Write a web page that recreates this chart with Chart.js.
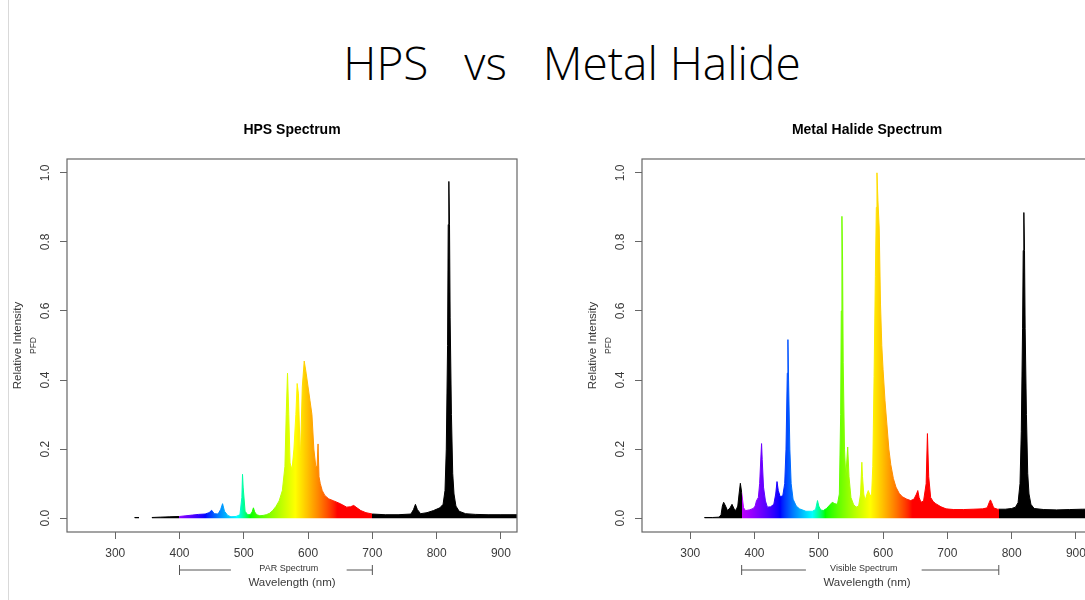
<!DOCTYPE html>
<html>
<head>
<meta charset="utf-8">
<script src="https://cdn.jsdelivr.net/npm/chart.js@4.4.0/dist/chart.umd.min.js"></script>
<style>
  html, body { margin: 0; padding: 0; background: #fff; }
  body { width: 1085px; height: 600px; overflow: hidden; position: relative; }
  #edge { position: absolute; left: 8px; top: 0; width: 1px; height: 600px; background: #d9d9d9; }
  #title { position: absolute; left: 0; top: 39px; width: 1144px; text-align: center; white-space: pre;
    font-family: "Open Sans", sans-serif; font-weight: 350; font-size: 46px; line-height: 46px; color: #000; }
  canvas { position: absolute; top: 110px; }
</style>
</head>
<body>
<div id="edge"></div>
<div id="title">HPS   vs   Metal Halide</div>
<canvas id="hps" width="545" height="490" style="left:0px"></canvas>
<canvas id="mh" width="545" height="490" style="left:575px"></canvas>
<script>
// tick labels
const xTickLabels = [300, 400, 500, 600, 700, 800, 900];
const yTickLabels = [0.0, 0.2, 0.4, 0.6, 0.8, 1.0];

// HPS spectrum (wavelength nm, relative intensity)
const hpsWl = [330, 337, 345, 357, 370, 385, 400, 410, 420, 430, 440, 446, 450, 454, 460, 464, 467, 470, 475, 480,
  488, 494, 497, 498, 499, 502, 506, 510, 513, 515, 517, 520, 525, 530, 535, 540, 545, 550, 555, 560,
  564, 566, 568, 570, 572, 575, 578, 581, 583, 585, 588, 591, 594, 597, 600, 603, 606, 609, 612, 614,
  615.5, 617, 619, 622, 626, 632, 640, 650, 660, 666, 671, 676, 682, 690, 700, 720, 740, 760, 764, 767,
  770, 775, 785, 795, 805, 810, 813, 815, 817, 818, 819, 820, 821, 823, 825, 827, 830, 835, 845, 860,
  880, 900, 925];
const hpsVal = [0.002, 0.002, null, 0.002, 0.003, 0.004, 0.005, 0.007, 0.009, 0.011, 0.012, 0.016, 0.023, 0.013, 0.012, 0.025, 0.042, 0.02, 0.008, 0.004,
  0.005, 0.01, 0.06, 0.127, 0.09, 0.02, 0.01, 0.01, 0.018, 0.03, 0.018, 0.01, 0.007, 0.008, 0.01, 0.014, 0.022, 0.034, 0.05, 0.08,
  0.15, 0.3, 0.42, 0.3, 0.16, 0.14, 0.2, 0.3, 0.39, 0.36, 0.17, 0.38, 0.455, 0.42, 0.38, 0.34, 0.3, 0.2, 0.15, 0.15,
  0.215, 0.12, 0.1, 0.08, 0.066, 0.056, 0.05, 0.042, 0.032, 0.033, 0.037, 0.03, 0.022, 0.016, 0.012, 0.01, 0.01, 0.012, 0.025, 0.04,
  0.025, 0.013, 0.016, 0.022, 0.03, 0.04, 0.08, 0.2, 0.5, 0.85, 0.975, 0.85, 0.58, 0.3, 0.13, 0.07, 0.035, 0.02, 0.013, 0.011,
  0.01, 0.01, 0.01];

// Metal halide spectrum
const mhWl = [322, 335, 345, 348, 350, 352, 355, 358, 362, 365, 368, 371, 374, 376, 378, 380, 383, 386, 392, 398,
  401, 403, 406, 408, 410, 411, 412, 414, 417, 420, 425, 430, 433, 435, 437, 440, 444, 447, 449, 451,
  452, 453, 455, 457, 460, 465, 470, 480, 490, 495, 498, 500, 503, 507, 512, 517, 521, 525, 529, 532,
  534, 535, 536, 537, 538, 540, 542, 545, 547, 550, 554, 558, 562, 565, 567, 568, 570, 572, 575, 577,
  579, 582, 584, 586, 588, 589.5, 590.5, 592, 594, 596, 598, 600, 603, 606, 609, 612, 616, 620, 625, 630,
  637, 643, 648, 652, 654, 656, 659, 663, 667, 669, 671, 674, 678, 682, 690, 698, 710, 725, 740, 755,
  762, 765, 767, 769, 772, 778, 790, 800, 806, 810, 813, 815, 817, 818, 819, 820, 821, 823, 825, 827,
  830, 835, 850, 870, 890, 910, 925];
const mhVal = [0.002, 0.002, 0.003, 0.01, 0.035, 0.046, 0.035, 0.022, 0.03, 0.04, 0.028, 0.022, 0.035, 0.07, 0.101, 0.075, 0.03, 0.022, 0.024, 0.028,
  0.035, 0.05, 0.06, 0.1, 0.18, 0.216, 0.17, 0.09, 0.05, 0.032, 0.033, 0.04, 0.07, 0.106, 0.08, 0.062, 0.065, 0.1, 0.2, 0.42,
  0.517, 0.4, 0.2, 0.1, 0.055, 0.035, 0.027, 0.02, 0.02, 0.025, 0.051, 0.035, 0.024, 0.022, 0.028, 0.038, 0.046, 0.042, 0.04, 0.07,
  0.3, 0.6, 0.874, 0.75, 0.45, 0.2, 0.12, 0.206, 0.12, 0.06, 0.04, 0.032, 0.035, 0.07, 0.162, 0.12, 0.07, 0.051, 0.07, 0.08,
  0.07, 0.061, 0.15, 0.41, 0.7, 0.9, 1.0, 0.92, 0.84, 0.62, 0.5, 0.43, 0.34, 0.27, 0.2, 0.155, 0.115, 0.09, 0.072, 0.062,
  0.055, 0.051, 0.055, 0.07, 0.08, 0.06, 0.046, 0.05, 0.1, 0.245, 0.12, 0.06, 0.048, 0.042, 0.033, 0.027, 0.025, 0.025, 0.026, 0.027,
  0.03, 0.045, 0.053, 0.045, 0.03, 0.026, 0.026, 0.028, 0.032, 0.045, 0.1, 0.25, 0.55, 0.775, 0.885, 0.775, 0.55, 0.3, 0.13, 0.07,
  0.04, 0.028, 0.025, 0.024, 0.025, 0.026, 0.026];

function wlColor(w) {
    let r = 0, g = 0, b = 0;
    if (w < 440) { r = 0.7 * (440 - w) / 60; b = 1; }
    else if (w < 490) { g = (w - 440) / 50; b = 1; }
    else if (w < 510) { g = 1; b = (510 - w) / 20; }
    else if (w < 580) { r = (w - 510) / 70; g = 1; }
    else if (w < 645) { r = 1; g = (645 - w) / 65; }
    else { r = 1; }
    const c = v => Math.round(255 * Math.pow(v, 0.8));
    return `rgb(${c(r)},${c(g)},${c(b)})`;
}

function spectrumFill(lo, hi) {
    return (context) => {
        const chart = context.chart;
        const x = chart.scales.x;
        if (!chart.chartArea || !x) return '#000';
        const g = chart.ctx.createLinearGradient(x.left, 0, x.right, 0);
        const off = w => Math.min(1, Math.max(0, (x.getPixelForValue(w) - x.left) / (x.right - x.left)));
        g.addColorStop(0, '#000');
        g.addColorStop(off(lo), '#000');
        for (let w = lo; w <= hi; w += 2) {
            g.addColorStop(off(w), wlColor(w));
        }
        g.addColorStop(off(hi), '#000');
        g.addColorStop(1, '#000');
        return g;
    };
}

const FONT = '"Liberation Sans", Arial, sans-serif';

const rFrame = {
    id: 'rFrame',
    afterDraw(chart, args, opts) {
        const { ctx, chartArea: a, scales: { x, y } } = chart;
        const cx = (a.left + a.right) / 2;
        ctx.save();
        ctx.strokeStyle = '#666';
        ctx.lineWidth = 1.2;
        ctx.strokeRect(a.left, a.top, a.right - a.left, a.bottom - a.top);

        ctx.fillStyle = '#3a3a3a';
        ctx.textAlign = 'center';
        ctx.textBaseline = 'middle';
        ctx.font = '12px ' + FONT;
        y.ticks.forEach(t => {
            ctx.save();
            ctx.translate(a.left - 21, y.getPixelForValue(t.value));
            ctx.rotate(-Math.PI / 2);
            ctx.fillText(t.value.toFixed(1), 0, 0);
            ctx.restore();
        });

        const cy = (a.top + a.bottom) / 2;
        ctx.save();
        ctx.translate(a.left - 49, cy);
        ctx.rotate(-Math.PI / 2);
        ctx.font = '11.5px ' + FONT;
        ctx.fillText('Relative Intensity', 0, 0);
        ctx.font = '8.5px ' + FONT;
        ctx.fillText('PFD', 0, 16);
        ctx.restore();

        ctx.font = '11.5px ' + FONT;
        ctx.fillText('Wavelength (nm)', cx, a.bottom + 51);

        ctx.fillStyle = '#000';
        ctx.font = 'bold 14px ' + FONT;
        ctx.fillText(opts.title, cx, 20.5);

        // spectrum range bracket
        const p0 = x.getPixelForValue(opts.range[0]);
        const p1 = x.getPixelForValue(480);
        const p2 = x.getPixelForValue(660);
        const p3 = x.getPixelForValue(opts.range[1]);
        const by = a.bottom + 38;
        ctx.strokeStyle = '#555';
        ctx.lineWidth = 1;
        ctx.beginPath();
        ctx.moveTo(p0, by - 5); ctx.lineTo(p0, by + 5);
        ctx.moveTo(p0, by); ctx.lineTo(p1, by);
        ctx.moveTo(p2, by); ctx.lineTo(p3, by);
        ctx.moveTo(p3, by - 5); ctx.lineTo(p3, by + 5);
        ctx.stroke();
        ctx.fillStyle = '#333';
        ctx.font = '9px ' + FONT;
        ctx.fillText(opts.rangeLabel, x.getPixelForValue(570), by - 1.5);
        ctx.restore();
    }
};

function makeChart(id, wl, val, title, range, rangeLabel) {
    const points = wl.map((w, i) => ({ x: w, y: val[i] }));
    const fill = spectrumFill(range[0], range[1]);
    return new Chart(document.getElementById(id), {
        type: 'line',
        data: {
            datasets: [{
                data: points,
                fill: 'origin',
                backgroundColor: fill,
                borderColor: fill,
                borderWidth: 1,
                pointRadius: 0,
                tension: 0,
                spanGaps: false,
            }]
        },
        options: {
            responsive: false,
            animation: false,
            layout: { padding: { top: 49, right: 28, bottom: 28, left: 0 } },
            scales: {
                x: {
                    type: 'linear',
                    min: 225,
                    max: 925,
                    afterBuildTicks: s => { s.ticks = xTickLabels.map(v => ({ value: v })); },
                    afterFit: s => { s.height = 40; },
                    grid: { drawOnChartArea: false, drawTicks: true, tickLength: 7, color: '#666' },
                    border: { display: false },
                    ticks: { color: '#3a3a3a', padding: 7, maxRotation: 0, font: { family: FONT, size: 12 } },
                },
                y: {
                    min: -0.04,
                    max: 1.04,
                    afterBuildTicks: s => { s.ticks = yTickLabels.map(v => ({ value: v })); },
                    afterFit: s => { s.width = 67; },
                    grid: { drawOnChartArea: false, drawTicks: true, tickLength: 7, color: '#666' },
                    border: { display: false },
                    ticks: { display: false },
                }
            },
            plugins: {
                legend: { display: false },
                tooltip: { enabled: false },
                rFrame: { title: title, range: range, rangeLabel: rangeLabel },
            }
        },
        plugins: [rFrame]
    });
}

makeChart('hps', hpsWl, hpsVal, 'HPS Spectrum', [400, 700], 'PAR Spectrum');
makeChart('mh', mhWl, mhVal, 'Metal Halide Spectrum', [380, 780], 'Visible Spectrum');
</script>
</body>
</html>
